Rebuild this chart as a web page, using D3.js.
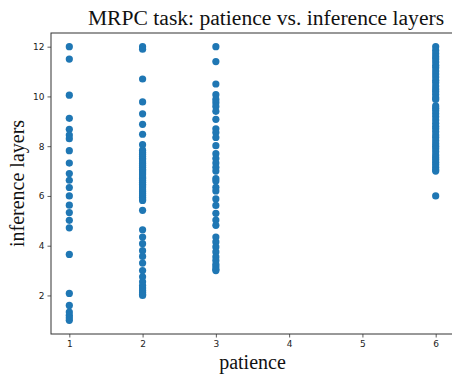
<!DOCTYPE html>
<html>
<head>
<meta charset="utf-8">
<script src="https://cdn.jsdelivr.net/npm/d3@7"></script>
<style>
  html, body { margin: 0; padding: 0; background: #fff; }
  svg { display: block; overflow: hidden; }
</style>
</head>
<body>
<svg id="chart" width="452" height="376"></svg>
<script>
// Inference layers reached for each patience setting (MRPC)
const patience1 = [12.0, 11.5, 10.05, 9.12, 8.68, 8.45, 8.3, 7.82, 7.32, 6.9, 6.63, 6.34, 6.0, 5.63, 5.33, 5.02, 4.72, 3.65, 2.08, 1.6, 1.33, 1.2, 1.1, 1.0];
const patience2 = [12.0, 11.9, 10.7, 9.78, 9.3, 8.88, 8.48, 8.06, 7.84, 7.75, 7.68, 7.6, 7.52, 7.45, 7.37, 7.3, 7.22, 7.15, 7.06, 7.0, 6.92, 6.85, 6.76, 6.7, 6.62, 6.55, 6.47, 6.4, 6.33, 6.25, 6.18, 6.1, 6.02, 5.95, 5.88, 5.82, 5.42, 4.64, 4.35, 4.08, 3.8, 3.57, 3.3, 3.0, 2.75, 2.55, 2.4, 2.3, 2.2, 2.12, 2.05, 2.0];
const patience3 = [12.0, 11.4, 10.5, 10.07, 9.88, 9.75, 9.6, 9.4, 9.08, 8.7, 8.55, 8.35, 8.02, 7.7, 7.5, 7.32, 7.15, 7.0, 6.7, 6.6, 6.35, 6.2, 5.88, 5.62, 5.3, 5.03, 4.82, 4.35, 4.15, 3.95, 3.75, 3.55, 3.4, 3.25, 3.15, 3.05, 3.0];
const patience6 = [12.0, 11.85, 11.72, 11.6, 11.5, 11.38, 11.25, 11.15, 11.02, 10.9, 10.78, 10.65, 10.55, 10.42, 10.3, 10.2, 10.08, 9.95, 9.88, 9.62, 9.52, 9.42, 9.3, 9.18, 9.05, 8.92, 8.8, 8.7, 8.58, 8.45, 8.35, 8.22, 8.1, 8.0, 7.9, 7.78, 7.65, 7.55, 7.45, 7.35, 7.25, 7.15, 7.05, 7.0, 6.0];

const xTicks = [1, 2, 3, 4, 5, 6];
const yTicks = [2, 4, 6, 8, 10, 12];

const points = [
  ...patience1.map(v => ({ p: 1, v })),
  ...patience2.map(v => ({ p: 2, v })),
  ...patience3.map(v => ({ p: 3, v })),
  ...patience6.map(v => ({ p: 6, v }))
];

const plot = { left: 51, top: 33, right: 454, bottom: 334 };

const x = d3.scaleLinear().domain([0.75, 6.25]).range([plot.left, plot.right]);
const y = d3.scaleLinear().domain([0.45, 12.55]).range([plot.bottom, plot.top]);

const svg = d3.select("#chart");

// points
svg.append("g")
  .selectAll("circle")
  .data(points)
  .join("circle")
  .attr("cx", d => x(d.p))
  .attr("cy", d => y(d.v))
  .attr("r", 3.6)
  .attr("fill", "#1f77b4");

// axes
const xAxis = svg.append("g")
  .attr("transform", `translate(0,${plot.bottom})`)
  .call(d3.axisBottom(x).tickValues(xTicks).tickFormat(d3.format("d")).tickSize(3.5).tickPadding(3));
const yAxis = svg.append("g")
  .attr("transform", `translate(${plot.left},0)`)
  .call(d3.axisLeft(y).tickValues(yTicks).tickFormat(d3.format("d")).tickSize(3.5).tickPadding(3));

[xAxis, yAxis].forEach(g => {
  g.select(".domain").remove();
  g.selectAll(".tick line").attr("stroke", "#333").attr("stroke-width", 0.8);
  g.selectAll(".tick text")
    .attr("fill", "#222")
    .style("font-family", "'DejaVu Sans', sans-serif")
    .style("font-size", "9px");
});

// frame
svg.append("rect")
  .attr("x", plot.left)
  .attr("y", plot.top)
  .attr("width", plot.right - plot.left)
  .attr("height", plot.bottom - plot.top)
  .attr("fill", "none")
  .attr("stroke", "#333")
  .attr("stroke-width", 1);

// title and axis labels
const serif = "'Liberation Serif', 'Times New Roman', serif";
svg.append("text")
  .attr("x", 266)
  .attr("y", 25)
  .attr("text-anchor", "middle")
  .style("font-family", serif)
  .style("font-size", "21.6px")
  .attr("fill", "#111")
  .text("MRPC task: patience vs. inference layers");

svg.append("text")
  .attr("x", (plot.left + plot.right) / 2)
  .attr("y", 369)
  .attr("text-anchor", "middle")
  .style("font-family", serif)
  .style("font-size", "20px")
  .attr("fill", "#111")
  .text("patience");

svg.append("text")
  .attr("transform", `translate(24,${(plot.top + plot.bottom) / 2}) rotate(-90)`)
  .attr("text-anchor", "middle")
  .style("font-family", serif)
  .style("font-size", "20px")
  .attr("fill", "#111")
  .text("inference layers");
</script>
</body>
</html>
